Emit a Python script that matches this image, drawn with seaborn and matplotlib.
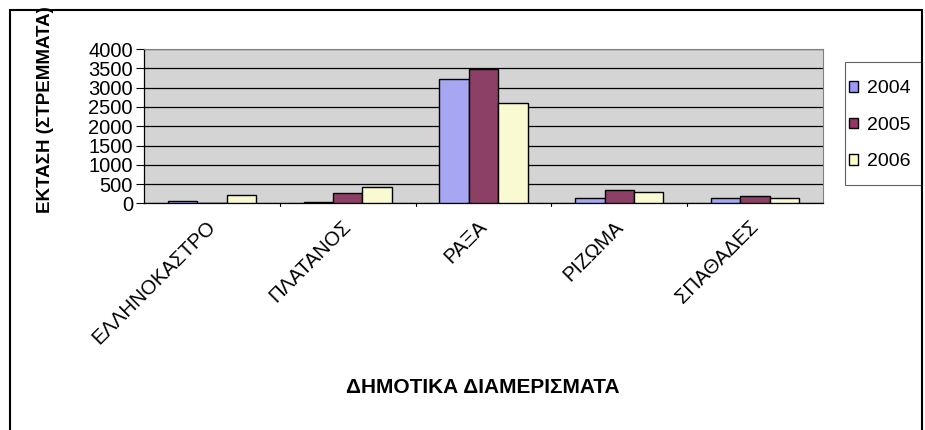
import matplotlib
matplotlib.use("Agg")
import matplotlib.pyplot as plt
import matplotlib.patches as mpatches
import matplotlib.transforms as mtransforms
import pandas as pd
import seaborn as sns

regions = ["ΕΛΛΗΝΟΚΑΣΤΡΟ", "ΠΛΑΤΑΝΟΣ", "ΡΑΞΑ", "ΡΙΖΩΜΑ", "ΣΠΑΘΑΔΕΣ"]
years = ["2004", "2005", "2006"]
area_2004 = [50, 30, 3220, 140, 130]
area_2005 = [0, 260, 3480, 340, 190]
area_2006 = [210, 420, 2600, 290, 130]
yticks = [0, 500, 1000, 1500, 2000, 2500, 3000, 3500, 4000]
colors = ["#9999FF", "#993366", "#FFFFCC"]

df = pd.DataFrame({
    "region": regions * 3,
    "year": [y for y in years for _ in regions],
    "area": area_2004 + area_2005 + area_2006,
})

sns.set_style("white")
plt.rcParams["font.family"] = ["Liberation Sans", "DejaVu Sans"]
plt.rcParams["text.color"] = "black"
plt.rcParams["xtick.color"] = "black"
plt.rcParams["ytick.color"] = "black"

fig = plt.figure(figsize=(9.25, 4.3), dpi=100)
ax = fig.add_axes([0.1557, 0.527, 0.734, 0.359])
ax.set_facecolor("#d4d4d4")

sns.barplot(data=df, x="region", y="area", hue="year", palette=colors,
            edgecolor="black", linewidth=1, width=0.65, ax=ax, zorder=3)

ax.set_ylim(0, 4000)
ax.set_yticks(yticks)
ax.set_yticklabels([str(v) for v in yticks], fontsize=14.5)
ax.yaxis.grid(True, color="black", linewidth=0.9, zorder=0)
ax.set_axisbelow(True)
ax.tick_params(axis="y", direction="out", length=6, width=0.8, pad=2, left=True)
ax.tick_params(axis="x", length=0, pad=10)
ax.set_xlim(-0.5, 4.5)
for i in range(1, 5):
    ax.plot([i - 0.5, i - 0.5], [0, -60], color="black", lw=0.8, clip_on=False)
ax.set_xticks(range(len(regions)))
ax.set_xticklabels(regions, rotation=45, ha="right", rotation_mode="anchor",
                   fontsize=14.5)
shift = mtransforms.ScaledTranslation(-6 / 100, 0, fig.dpi_scale_trans)
for lbl in ax.get_xticklabels():
    lbl.set_transform(lbl.get_transform() + shift)

for s in ["top", "right"]:
    ax.spines[s].set_color("#808080")
    ax.spines[s].set_linewidth(0.8)
for s in ["left", "bottom"]:
    ax.spines[s].set_color("black")
    ax.spines[s].set_linewidth(0.9)

ax.set_xlabel("")
ax.set_ylabel("")
fig.text(0.522, 0.098, "ΔΗΜΟΤΙΚΑ ΔΙΑΜΕΡΙΣΜΑΤΑ", ha="center", va="center",
         fontsize=15, fontweight="bold")
fig.text(0.049, 0.745, "ΕΚΤΑΣΗ (ΣΤΡΕΜΜΑΤΑ)", ha="center", va="center",
         rotation=90, fontsize=13.5, fontweight="bold")

handles = [mpatches.Patch(facecolor=c, edgecolor="black", linewidth=1) for c in colors]
leg = ax.legend(handles, years, loc="upper left", bbox_to_anchor=(0.914, 0.822),
                bbox_transform=fig.transFigure, frameon=False,
                fontsize=14, handlelength=0.45, handleheight=0.45,
                handletextpad=0.45, labelspacing=1.0, borderpad=0.2,
                borderaxespad=0)
# legend box
fig.add_artist(mpatches.Rectangle((0.9135, 0.5698), 0.0832, 0.286,
                                  transform=fig.transFigure, fill=False,
                                  edgecolor="#606060", linewidth=0.8))

# outer chart frame
fig.add_artist(mpatches.Rectangle((0.011, -0.05), 0.986, 1.027,
                                  transform=fig.transFigure, fill=False,
                                  edgecolor="black", linewidth=1.5))

fig.savefig("out.png", dpi=100)
